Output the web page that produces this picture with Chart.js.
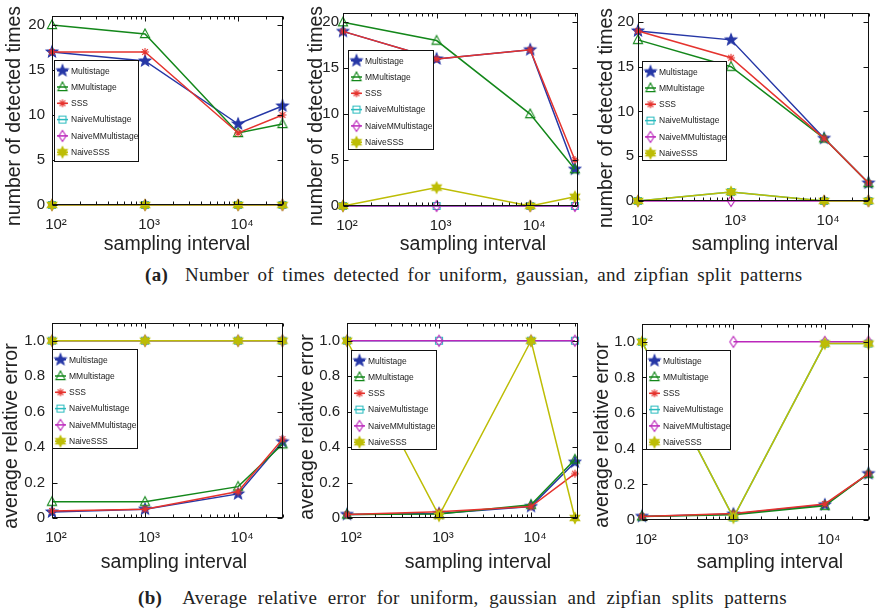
<!DOCTYPE html>
<html>
<head>
<meta charset="utf-8">
<script src="https://cdn.jsdelivr.net/npm/chart.js@4.4.0/dist/chart.umd.min.js"></script>
<style>
  body { margin: 0; background: #fff; width: 876px; height: 611px; position: relative; overflow: hidden; }
  canvas { position: absolute; }
  .cap { position: absolute; font-family: "Liberation Serif", serif; font-size: 19px; line-height: 20px; color: #222; white-space: nowrap; letter-spacing: 0.3px; }
</style>
</head>
<body>
<canvas id="c1"></canvas>
<canvas id="c2"></canvas>
<canvas id="c3"></canvas>
<canvas id="c4"></canvas>
<canvas id="c5"></canvas>
<canvas id="c6"></canvas>
<div class="cap" style="left:145px;top:265px;word-spacing:3.4px"><b>(a)</b>&nbsp; Number of times detected for uniform, gaussian, and zipfian split patterns</div>
<div class="cap" style="left:138px;top:588px;word-spacing:5.5px"><b>(b)</b>&nbsp; Average relative error for uniform, gaussian and zipfian splits patterns</div>
<script>
const samplingInterval = [100, 1000, 10000, 30000];
const seriesNames = ['Multistage', 'MMultistage', 'SSS', 'NaiveMultistage', 'NaiveMMultistage', 'NaiveSSS'];
const xTickValues = [100, 1000, 10000];
const xTickLabels = ['10²', '10³', '10⁴'];

// (a) number of detected times, one row per series
const detectedUniform = [
  [17, 16, 9, 11],
  [20, 19, 8, 9],
  [17, 17, 8, 10],
  [0, 0, 0, 0],
  [0, 0, 0, 0],
  [0, 0, 0, 0]
];
const detectedGaussian = [
  [19, 16, 17, 4],
  [20, 18, 10, 4],
  [19, 16, 17, 5],
  [0, 0, 0, 0],
  [0, 0, 0, 0],
  [0, 2, 0, 1]
];
const detectedZipfian = [
  [19, 18, 7, 2],
  [18, 15, 7, 2],
  [19, 16, 7, 2],
  [0, 1, 0, 0],
  [0, 0, 0, 0],
  [0, 1, 0, 0]
];

// (b) average relative error
const errorUniform = [
  [0.034, 0.05, 0.136, 0.43],
  [0.092, 0.092, 0.177, 0.416],
  [0.04, 0.05, 0.149, 0.445],
  [1, 1, 1, 1],
  [1, 1, 1, 1],
  [1, 1, 1, 1]
];
const errorGaussian = [
  [0.02, 0.025, 0.065, 0.315],
  [0.02, 0.022, 0.075, 0.33],
  [0.02, 0.035, 0.065, 0.25],
  [1, 1, 1, 1],
  [1, 1, 1, 1],
  [1, 0.013, 1, 0]
];
const errorZipfian = [
  [0.02, 0.033, 0.085, 0.26],
  [0.02, 0.03, 0.08, 0.26],
  [0.02, 0.037, 0.09, 0.26],
  [1, 0.013, 0.99, 0.99],
  [null, 1, 1, 1],
  [1, 0.013, 0.99, 0.99]
];

const seriesColors = ['#2637a6', '#13871a', '#e5332e', '#2cbcbf', '#bb27bb', '#bdbd05'];
const markerKinds = ['pentagram', 'triangle', 'asterisk', 'square', 'diamond', 'hexagram'];
const FONT = '"Liberation Sans", Arial, sans-serif';

function makeMarker(kind, color) {
  const c = document.createElement('canvas');
  c.width = 16; c.height = 16;
  const g = c.getContext('2d');
  g.translate(8, 8);
  g.strokeStyle = color; g.fillStyle = color; g.lineWidth = 1.1;
  g.beginPath();
  if (kind == 'pentagram' || kind == 'hexagram') {
    const n = kind == 'pentagram' ? 5 : 6;
    const ro = kind == 'pentagram' ? 6 : 5.5, ri = kind == 'pentagram' ? 2.6 : 3;
    for (let i = 0; i < 2 * n; i++) {
      const r = i % 2 ? ri : ro;
      const a = -Math.PI / 2 + i * Math.PI / n;
      g.lineTo(r * Math.cos(a), r * Math.sin(a));
    }
    g.closePath(); g.fill(); g.stroke();
  } else if (kind == 'triangle') {
    g.moveTo(0, -5); g.lineTo(4.6, 3.6); g.lineTo(-4.6, 3.6); g.closePath(); g.stroke();
  } else if (kind == 'square') {
    g.rect(-3.5, -3.5, 7, 7); g.stroke();
  } else if (kind == 'diamond') {
    g.moveTo(0, -5.5); g.lineTo(3.6, 0); g.lineTo(0, 5.5); g.lineTo(-3.6, 0); g.closePath(); g.stroke();
  } else {
    [0, 45, 90, 135].forEach(d => {
      const r = d * Math.PI / 180;
      g.moveTo(-4 * Math.cos(r), -4 * Math.sin(r));
      g.lineTo(4 * Math.cos(r), 4 * Math.sin(r));
    });
    g.stroke();
  }
  return c;
}
const markers = markerKinds.map((k, i) => makeMarker(k, seriesColors[i]));

const panels = [
  { id: 'c1', rows: detectedUniform, box: [0, 0, 290, 262], area: [52, 10, 287, 205], yMax: 21, step: 5, xMax: 30000, tickPad: 7,
    yTitle: 'number of detected times', yT: [15, 116], xT: [177, 250], legend: [54, 60, 84, 101] },
  { id: 'c2', rows: detectedGaussian, box: [292, 0, 293, 262], area: [343, 10, 583, 206], yMax: 21, step: 5, xMax: 32000, tickPad: 4,
    yTitle: 'number of detected times', yT: [317, 116], xT: [473, 250], legend: [348, 50, 85, 99] },
  { id: 'c3', rows: detectedZipfian, box: [585, 0, 291, 262], area: [638, 5, 872, 201], yMax: 21, step: 5, xMax: 30000, tickPad: 4,
    yTitle: 'number of detected times', yT: [607, 118], xT: [765, 250], legend: [642, 61, 84, 99] },
  { id: 'c4', rows: errorUniform, box: [0, 300, 290, 280], area: [52, 323, 287, 518], yMax: 1.1, step: 0.2, xMax: 30000, tickPad: 7,
    yTitle: 'average relative error', yT: [12, 436], xT: [174, 568], legend: [52, 349, 85, 99] },
  { id: 'c5', rows: errorGaussian, box: [292, 300, 293, 280], area: [347, 323, 583, 518], yMax: 1.1, step: 0.2, xMax: 32000, tickPad: 7,
    yTitle: 'average relative error', yT: [308, 427], xT: [478, 568], legend: [351, 350, 85, 99] },
  { id: 'c6', rows: errorZipfian, box: [585, 300, 291, 280], area: [642, 324, 875, 520], yMax: 1.1, step: 0.2, xMax: 30000, tickPad: 7,
    yTitle: 'average relative error', yT: [603, 435], xT: [770, 568], legend: [646, 350, 84, 99] }
];

function makePanel(p) {
  const [bl, bt, bw, bh] = p.box;
  const [al, at, ar, ab] = p.area;
  const canvas = document.getElementById(p.id);
  canvas.width = bw; canvas.height = bh;
  canvas.style.left = bl + 'px'; canvas.style.top = bt + 'px';
  canvas.style.width = bw + 'px'; canvas.style.height = bh + 'px';

  const datasets = p.rows.map((vals, i) => ({
    label: seriesNames[i],
    data: samplingInterval.map((x, j) => ({ x: x, y: vals[j] })),
    borderColor: seriesColors[i],
    backgroundColor: seriesColors[i],
    borderWidth: 1.5,
    pointStyle: markers[i],
    pointRadius: 6,
    clip: false,
    order: p.rows.length - i,
    tension: 0
  }));

  // box, inward ticks, legend and axis titles in matlab style
  const matlabAxes = {
    id: 'matlabAxes',
    afterDraw(chart) {
      const { ctx, chartArea: a, scales: { x, y } } = chart;
      ctx.save();
      ctx.strokeStyle = '#111';
      ctx.lineWidth = 1;
      const L = Math.round(a.left) + 0.5, R = Math.round(a.right) - 0.5;
      const T = Math.round(a.top) + 0.5, B = Math.round(a.bottom) - 0.5;
      ctx.strokeRect(L, T, R - L, B - T);
      ctx.beginPath();
      y.ticks.forEach(t => {
        const py = Math.round(y.getPixelForValue(t.value)) + 0.5;
        ctx.moveTo(L, py); ctx.lineTo(L + 5, py);
        ctx.moveTo(R, py); ctx.lineTo(R - 5, py);
      });
      for (let d = 100; d <= x.max; d *= 10) {
        for (let m = 1; m < 10; m++) {
          const v = d * m;
          if (v < x.min || v > x.max) continue;
          const len = m == 1 ? 5 : 3;
          const px = Math.round(x.getPixelForValue(v)) + 0.5;
          ctx.moveTo(px, B); ctx.lineTo(px, B - len);
          ctx.moveTo(px, T); ctx.lineTo(px, T + len);
        }
      }
      ctx.stroke();

      // legend
      const [lx0, ly0, lw, lh] = p.legend;
      const lx = lx0 - bl, ly = ly0 - bt;
      ctx.fillStyle = '#fff';
      ctx.fillRect(lx, ly, lw, lh);
      ctx.strokeStyle = '#111';
      ctx.strokeRect(lx + 0.5, ly + 0.5, lw, lh);
      ctx.font = '8.5px ' + FONT;
      ctx.textAlign = 'left';
      ctx.textBaseline = 'middle';
      chart.data.datasets.forEach((ds, i) => {
        const ry = ly + 10.7 + i * 16.3;
        ctx.strokeStyle = ds.borderColor;
        ctx.lineWidth = 1.5;
        ctx.beginPath(); ctx.moveTo(lx + 3, ry); ctx.lineTo(lx + 14, ry); ctx.stroke();
        ctx.drawImage(ds.pointStyle, lx + 8.5 - 8, ry - 8);
        ctx.fillStyle = '#222';
        ctx.fillText(ds.label, lx + 17, ry + 0.5);
      });

      // axis titles
      ctx.fillStyle = '#222';
      ctx.font = '19.5px ' + FONT;
      ctx.textAlign = 'center';
      ctx.textBaseline = 'alphabetic';
      ctx.fillText('sampling interval', p.xT[0] - bl, p.xT[1] - bt);
      ctx.translate(p.yT[0] - bl, p.yT[1] - bt);
      ctx.rotate(-Math.PI / 2);
      ctx.textBaseline = 'middle';
      ctx.fillText(p.yTitle, 0, 0);
      ctx.restore();
    }
  };

  return new Chart(canvas, {
    type: 'line',
    data: { datasets: datasets },
    options: {
      responsive: false,
      animation: false,
      events: [],
      layout: { padding: { left: 0, top: at - bt, right: bl + bw - ar, bottom: 0 } },
      plugins: { legend: { display: false }, tooltip: { enabled: false } },
      scales: {
        x: {
          type: 'logarithmic', min: 100, max: p.xMax,
          grid: { display: false, drawTicks: false }, border: { display: false },
          afterBuildTicks: s => { s.ticks = xTickValues.map(v => ({ value: v })); },
          afterFit: s => { s.height = bt + bh - ab; },
          ticks: { autoSkip: false, maxRotation: 0, padding: 11, labelOffset: 4, color: '#222', font: { family: FONT, size: 15 },
                   callback: (v, i) => xTickLabels[i] }
        },
        y: {
          type: 'linear', min: 0, max: p.yMax,
          grid: { display: false, drawTicks: false }, border: { display: false },
          afterFit: s => { s.width = al - bl; },
          ticks: { stepSize: p.step, includeBounds: false, padding: p.tickPad, color: '#222', font: { family: FONT, size: 15 } }
        }
      }
    },
    plugins: [matlabAxes]
  });
}

panels.forEach(makePanel);
</script>
</body>
</html>
